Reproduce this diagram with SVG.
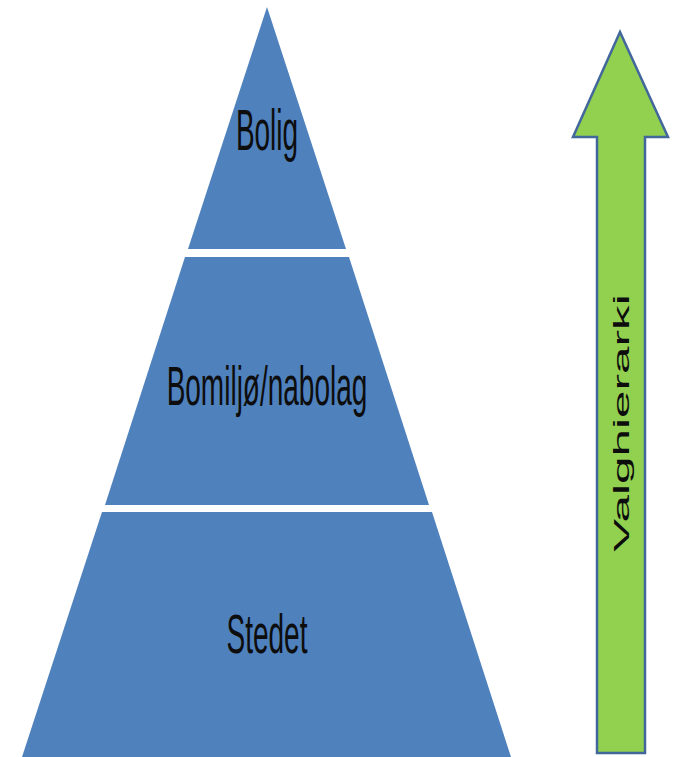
<svg xmlns="http://www.w3.org/2000/svg" width="673" height="757" viewBox="0 0 673 757">
<style>
.tier{fill:#4F81BD;}
.lbl{font-family:"Liberation Sans",Arial,sans-serif;font-size:28px;fill:#0d0d0d;text-anchor:middle;}
.arrow{fill:#92D050;stroke:#41679B;stroke-width:2.5;stroke-linejoin:miter;}
.atext{font-family:"Liberation Sans",Arial,sans-serif;font-size:22.5px;fill:#0d0d0d;text-anchor:middle;}
</style>
<rect width="673" height="757" fill="#ffffff"/>
<g id="tier-bolig">
<polygon class="tier" points="267,7 346,249 188,249"/>
<text class="lbl" transform="translate(267,150) scale(1,2.05)">Bolig</text>
</g>
<g id="tier-bomiljo">
<polygon class="tier" points="185,257 349,257 429,505 105,505"/>
<text class="lbl" transform="translate(267,405) scale(1,2.0)">Bomiljø/nabolag</text>
</g>
<g id="tier-stedet">
<polygon class="tier" points="102,512 432,512 511,757 22,757"/>
<text class="lbl" transform="translate(267,653) scale(1,2.0)">Stedet</text>
</g>
<g id="arrow-valghierarki">
<polygon class="arrow" points="620,32 668,137 645,137 645,753 597,753 597,137 573,137"/>
<text class="atext" transform="translate(629,423) rotate(-90) scale(2.2,1)">Valghierarki</text>
</g>
<g id="connectors"></g>
</svg>
